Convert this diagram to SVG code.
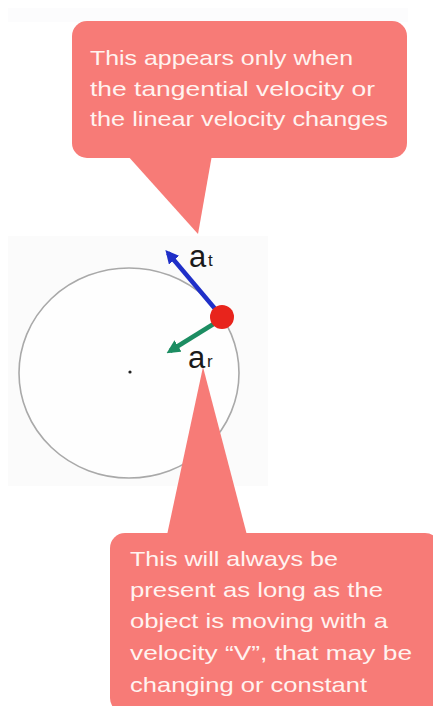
<svg xmlns="http://www.w3.org/2000/svg" width="433" height="706" viewBox="0 0 433 706">
<defs>
<style>
.bubble{fill:#f77b77}
.ct{font-family:"Liberation Sans",Arial,sans-serif;font-size:21px;fill:#fff3f0}
.lbl{font-family:"Liberation Sans",Arial,sans-serif;fill:#1a1a1a}
</style>
<marker id="ah-blue" viewBox="0 0 10 10" refX="7" refY="5" markerWidth="3" markerHeight="3" orient="auto"><path d="M0,0 L10,5 L0,10 z" fill="#1f2fc8"/></marker>
<marker id="ah-green" viewBox="0 0 10 10" refX="7" refY="5" markerWidth="3" markerHeight="3" orient="auto"><path d="M0,0 L10,5 L0,10 z" fill="#1c8d62"/></marker>
</defs>
<rect width="433" height="706" fill="#ffffff"/>
<rect x="8" y="8" width="400" height="14" fill="#fcfcfd"/>
<rect x="8" y="236" width="260" height="250" fill="#fbfbfb"/>
<g id="circle">
<ellipse cx="129" cy="373" rx="110" ry="105" fill="#fefefe" stroke="#a9a9a9" stroke-width="1.6"/>
<circle cx="130" cy="372" r="1.6" fill="#222"/>
</g>
<g id="callout-bottom">
<path class="bubble" d="M167,535 L203,367 L247,535 Z"/>
<rect class="bubble" x="110" y="533" width="330" height="180" rx="15"/>
<text class="ct" x="130" y="566" textLength="208" lengthAdjust="spacingAndGlyphs">This will always be</text>
<text class="ct" x="130" y="597" textLength="253" lengthAdjust="spacingAndGlyphs">present as long as the</text>
<text class="ct" x="130" y="628" textLength="258" lengthAdjust="spacingAndGlyphs">object is moving with a</text>
<text class="ct" x="130" y="660" textLength="282" lengthAdjust="spacingAndGlyphs">velocity “V”, that may be</text>
<text class="ct" x="130" y="692" textLength="237" lengthAdjust="spacingAndGlyphs">changing or constant</text>
</g>
<g id="callout-top">
<path class="bubble" d="M127,155 L198,234 L212,155 Z"/>
<rect class="bubble" x="72" y="21" width="335" height="137" rx="15"/>
<text class="ct" x="90" y="65" textLength="263" lengthAdjust="spacingAndGlyphs">This appears only when</text>
<text class="ct" x="90" y="96" textLength="285" lengthAdjust="spacingAndGlyphs">the tangential velocity or</text>
<text class="ct" x="90" y="126" textLength="298" lengthAdjust="spacingAndGlyphs">the linear velocity changes</text>
</g>
<g id="connectors">
<line x1="222" y1="317" x2="168" y2="253" stroke="#1f2fc8" stroke-width="4.5" marker-end="url(#ah-blue)"/>
<line x1="220" y1="320" x2="170" y2="351" stroke="#1c8d62" stroke-width="4.5" marker-end="url(#ah-green)"/>
</g>
<g id="particle">
<circle cx="222" cy="317" r="12" fill="#e8241c"/>
</g>
<g id="label-at">
<text class="lbl" x="189" y="267" font-size="31">a</text>
<text class="lbl" x="208" y="266" font-size="17">t</text>
</g>
<g id="label-ar">
<text class="lbl" x="188" y="368" font-size="31">a</text>
<text class="lbl" x="207" y="367" font-size="17">r</text>
</g>
</svg>
